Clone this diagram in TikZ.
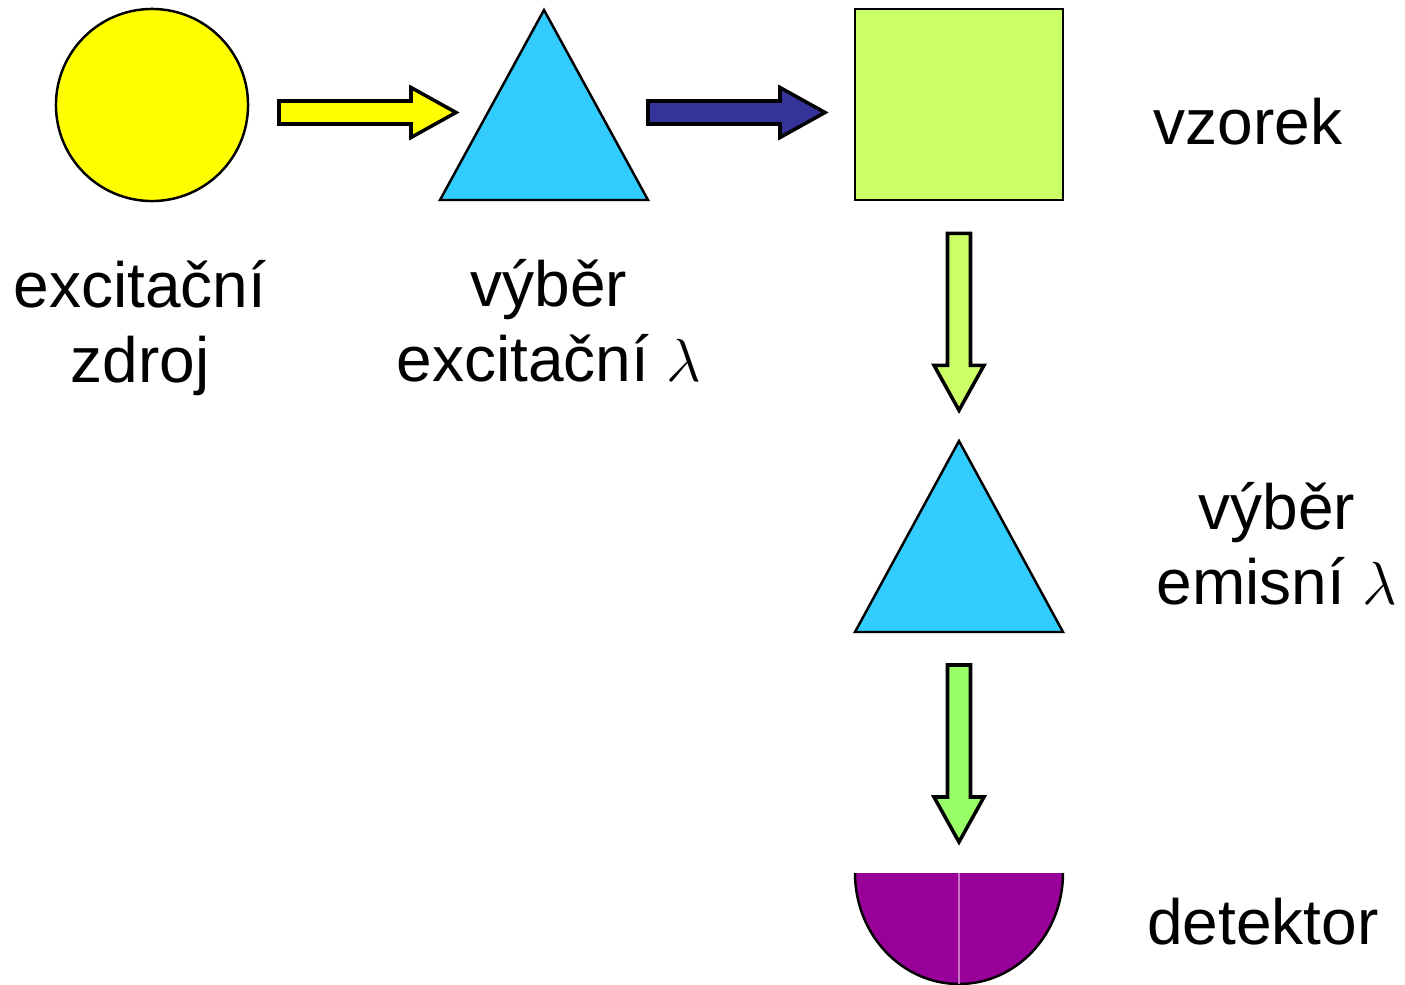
\documentclass[tikz,border=0pt]{standalone}
\usepackage{fontspec}
\setmainfont{Liberation Sans}
\usetikzlibrary{calc,positioning}
\definecolor{zluta}{HTML}{FFFF00}
\definecolor{modra}{HTML}{33CCFF}
\definecolor{tmava}{HTML}{333399}
\definecolor{zelena}{HTML}{CCFF66}
\definecolor{zelenb}{HTML}{99FF66}
\definecolor{fialova}{HTML}{990099}

\tikzset{
  tvar/.style={draw=black,line width=0.7pt},
  popis/.style={font=\fontsize{18.2}{21.5}\selectfont,align=center,inner sep=0pt},
  sipka/.pic={
    \draw[line width=1pt,pic actions] (0,-11.5) -- (132,-11.5) -- (132,-25) -- (177,0)
      -- (132,25) -- (132,11.5) -- (0,11.5) -- cycle;
  }
}

\begin{document}
\begin{tikzpicture}[x=0.01cm,y=-0.01cm]
              \useasboundingbox (0,0) rectangle (1405,985);
              % tvary
              \node[tvar,circle,fill=zluta,minimum size=1.92cm,inner sep=0pt](zdroj)at(152,105){};
              \draw[tvar,fill=modra](544,10)--(648,200)--(440,200)--cycle;
              \coordinate(filtr1)at(544,112);
              \node[tvar,fill=zelena,minimum width=2.08cm,minimum height=1.91cm,inner sep=0pt](vzorek)at(959,104.5){};
              \draw[tvar,fill=modra](959,441)--(1063,632)--(855,632)--cycle;
              \coordinate(filtr2)at(959,632);
              \coordinate(detektor)at(959,873);
              \fill[fialova](855,873)arc[start angle=180,end angle=0,x radius=104,y radius=111]--cycle;
              \draw[tvar](855,873)arc[start angle=180,end angle=0,x radius=104,y radius=111];
              \draw[fialova!55!white,line width=0.4pt](detektor)--++(0,111);
              % sipky
              \pic[fill=zluta]at($(zdroj.center)+(127,7.5)$){sipka};
              \pic[fill=tmava]at($(filtr1)+(104,0.5)$){sipka};
              \pic[fill=zelena,rotate=-90]at($(vzorek.south)+(0,32)$){sipka};
              \pic[fill=zelenb,rotate=-90]at($(filtr2)+(0,33)$){sipka};
              % popisky
              \node[popis,anchor=base](p1)at(140,383){excitační\\zdroj};
              \node[popis,anchor=base](p2)at(549,382){výběr\\excitační $\lambda$};
              \node[popis,anchor=base west](p3)at(1153,145){vzorek};
              \node[popis,anchor=base](p4)at(1277,605){výběr\\emisní $\lambda$};
              \node[popis,anchor=base](p5)at(1263,944){detektor};
            \end{tikzpicture}
\end{document}
